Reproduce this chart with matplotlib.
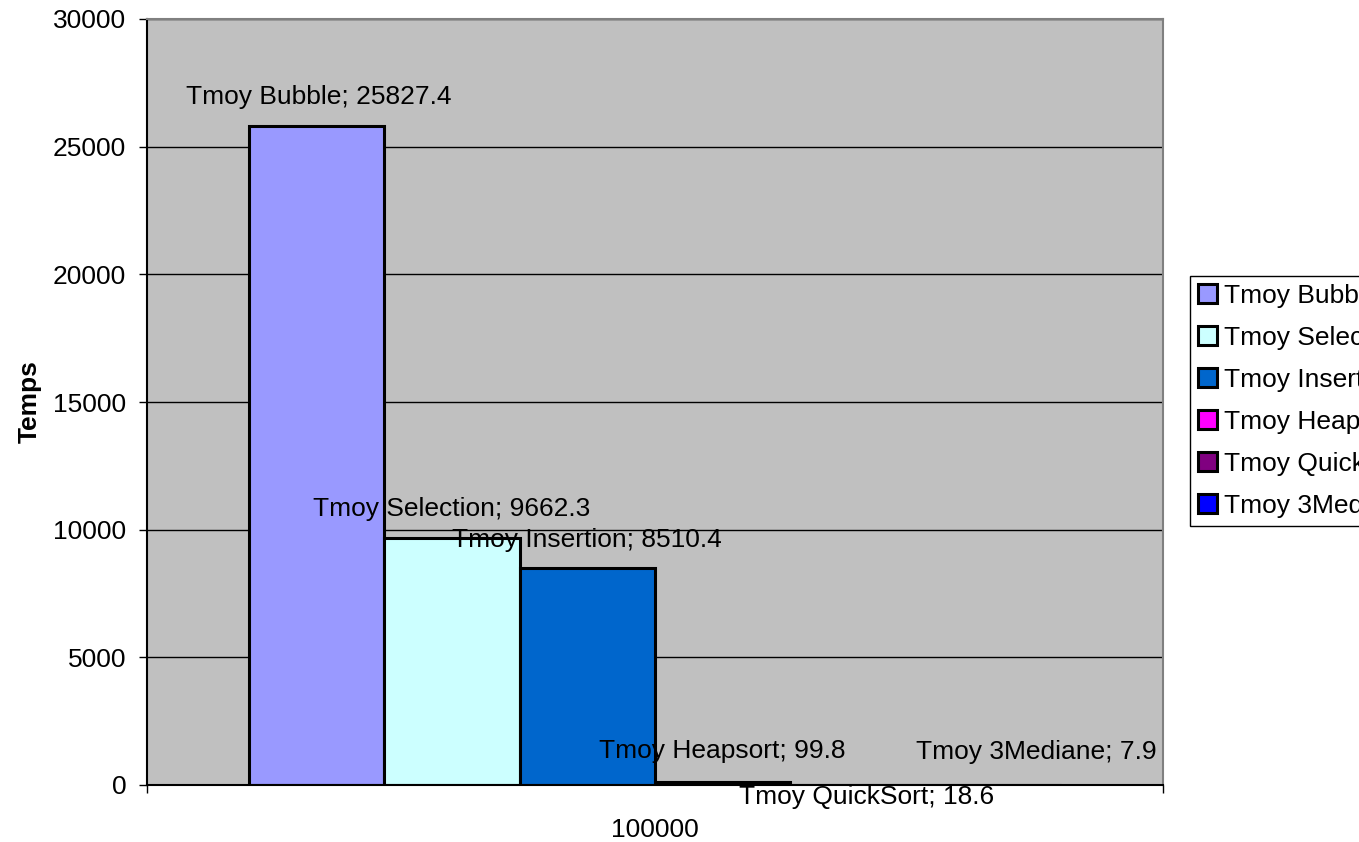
import matplotlib
matplotlib.use("Agg")
import matplotlib.pyplot as plt

plt.rcParams['font.family'] = ['Liberation Sans', 'DejaVu Sans']

# Average sorting times for an input size of 100000
category = "100000"
series_names = ["Tmoy Bubble", "Tmoy Selection", "Tmoy Insertion",
                "Tmoy Heapsort", "Tmoy QuickSort", "Tmoy 3Mediane"]
series_values = [25827.4, 9662.3, 8510.4, 99.8, 18.6, 7.9]
series_colors = ["#9999FF", "#CCFFFF", "#0066CC", "#FF00FF", "#800080", "#0000FF"]
y_ticks = [0, 5000, 10000, 15000, 20000, 25000, 30000]

# label offsets in pixels relative to each bar top (x, y)
label_offsets = [(2, 29), (0, 29), (0, 28), (0, 31), (8, -12), (43, 33)]

FS = 19
W, H = 1359, 842
fig = plt.figure(figsize=(W / 100, H / 100), dpi=100)
fig.patch.set_facecolor("white")
ax = fig.add_axes([147 / W, 1 - 785 / H, 1016 / W, 766 / H])
ax.set_facecolor("#C0C0C0")

n = len(series_values)
group_width = 0.8
bw = group_width / n
for i, (name, val, col) in enumerate(zip(series_names, series_values, series_colors)):
    xpos = -group_width / 2 + bw * (i + 0.5)
    ax.bar(xpos, val, width=bw, color=col, edgecolor="black", linewidth=2.2,
           label=name, zorder=2)
    dx, dy = label_offsets[i]
    ax.annotate(f"{name}; {val:g}", xy=(xpos, val), xytext=(dx, dy),
                textcoords="offset pixels", ha="center", va="center",
                fontsize=FS, color="black", zorder=4)

ax.set_xlim(-0.5, 0.5)
ax.set_ylim(0, 30000)
ax.set_yticks(y_ticks)
ax.set_yticklabels([str(t) for t in y_ticks], fontsize=FS)
ax.yaxis.grid(True, color="black", linewidth=1)
for gl in ax.get_ygridlines():
    gl.set_zorder(3)
ax.tick_params(axis="y", direction="out", length=6, width=1, pad=9, color="black")

ax.set_xticks([0])
ax.set_xticklabels([category], fontsize=FS)
ax.tick_params(axis="x", which="major", length=0, pad=24)
ax.set_xticks([-0.5, 0.5], minor=True)
ax.tick_params(axis="x", which="minor", direction="out", length=6, width=1)

ax.spines["left"].set_color("black")
ax.spines["bottom"].set_color("black")
ax.spines["top"].set_color("#808080")
ax.spines["right"].set_color("#808080")
for s in ax.spines.values():
    s.set_linewidth(1.5)
    s.set_zorder(5)

ax.set_ylabel("Temps", fontsize=FS, fontweight="bold")
ax.yaxis.set_label_coords(-0.104, 0.5)

leg = fig.legend(loc="upper left", bbox_to_anchor=(1190 / W, 1 - 276 / H),
                 bbox_transform=fig.transFigure, fontsize=FS, frameon=True,
                 fancybox=False, edgecolor="black", framealpha=1,
                 borderpad=0.3, borderaxespad=0, handlelength=0.72,
                 handleheight=0.72, handletextpad=0.25, labelspacing=0.68)
leg.get_frame().set_linewidth(1)

fig.savefig("out.png", dpi=100)
